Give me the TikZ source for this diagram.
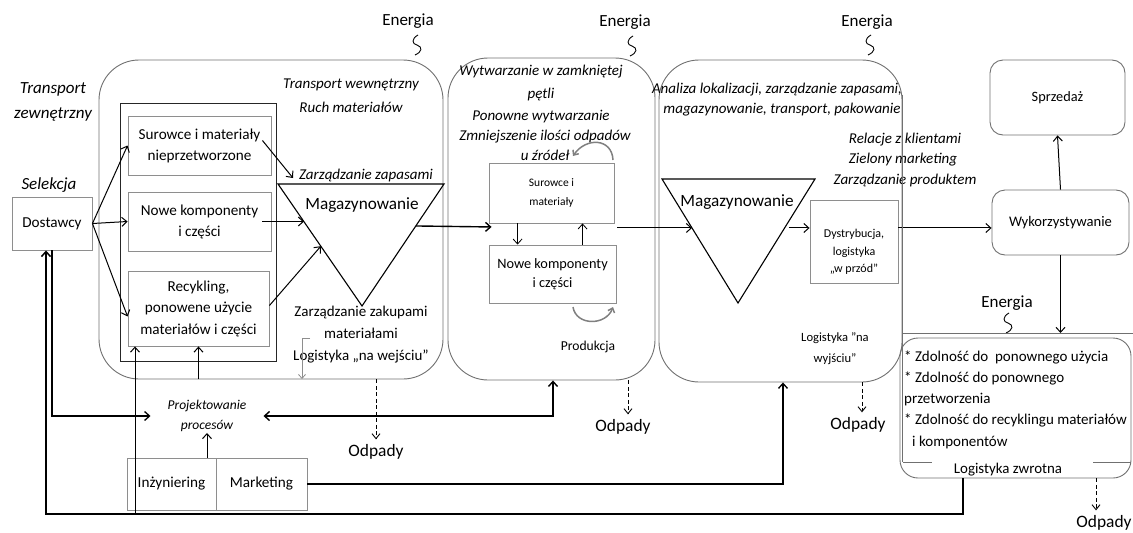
\documentclass[tikz,border=0pt]{standalone}
\usepackage{fontspec}
\setmainfont{Carlito}
\usetikzlibrary{arrows.meta,calc}
\newcommand\fsz[2]{\fontsize{#1}{#2}\selectfont}
\definecolor{boxgray}{HTML}{707070}
\definecolor{lightgray}{HTML}{8E8E8E}
\begin{document}
\begin{tikzpicture}[x=1pt,y=-1pt,
  bigbox/.style={draw=boxgray, rounded corners=40pt, line width=0.9pt, inner sep=0pt},
  gbox/.style={draw=lightgray, line width=0.9pt, inner sep=0pt, align=center, font=\fsz{15.2}{21}},
  rbox/.style={draw=boxgray, rounded corners=13pt, line width=0.9pt, inner sep=0pt, align=center},
  tri/.style={draw=black, line width=1.1pt},
  arr/.style={-{Straight Barb[length=5pt,width=9pt]}, line width=1pt},
  arrr/.style={{Straight Barb[length=5pt,width=9pt]}-{Straight Barb[length=5pt,width=9pt]}, line width=1.4pt},
  darr/.style={-{Straight Barb[length=5pt,width=8pt]}, line width=0.9pt, dash pattern=on 4pt off 2.5pt},
  garr/.style={-{Straight Barb[length=4pt,width=7pt]}, line width=0.8pt, draw=lightgray},
  garc/.style={-{Straight Barb[length=4pt,width=7pt]}, line width=1.5pt, draw=gray},
  it/.style={font=\fsz{15}{20}\itshape, inner sep=1pt},
  lbl/.style={font=\fsz{15}{22}, inner sep=1pt, align=center},
  en/.style={font=\fsz{17}{20}, inner sep=1pt},
  od/.style={font=\fsz{17.4}{20}, inner xsep=1pt, inner ysep=5pt},
  squig/.pic={\draw[line width=0.9pt] (1,0) .. controls (-6,4) and (-5,9) .. (0,10) .. controls (6,12) and (5,17) .. (-2,20);}
]
\useasboundingbox (0,0) rectangle (1133,533);

% big process boxes
\node[bigbox, minimum width=344pt, minimum height=319pt] (b1) at (271,219.5) {};
\node[bigbox, minimum width=207pt, minimum height=322pt] (b2) at (551.5,219) {};
\node[bigbox, minimum width=243pt, minimum height=322pt] (b3) at (780.5,221) {};

% energy
\node[en] (e1) at (408,21) {Energia};
\pic at (417,35) {squig};
\node[en] (e2) at (625,22) {Energia};
\pic at (632,36) {squig};
\node[en] (e3) at (867,22) {Energia};
\pic at (870,35) {squig};
\node[en] (e4) at (1007,303) {Energia};
\pic at (1008,313) {squig};

% left labels
\node[font=\fsz{17}{25}\itshape, align=center, inner sep=1pt] (tz) at (53,102) {Transport\\zewnętrzny};
\node[font=\fsz{17}{20}\itshape, inner sep=1pt] (sel) at (49,185) {Selekcja};
\node[gbox, minimum width=80pt, minimum height=53pt] (dost) at (52,223.5) {Dostawcy};

% box 1 contents
\node[draw=black!85, line width=0.9pt, minimum width=156pt, minimum height=258pt, inner sep=0pt] (cont) at (198,232) {};
\node[gbox, minimum width=143pt, minimum height=59pt] (sur) at (199.5,145.5) {Surowce i materiały\\nieprzetworzone};
\node[gbox, minimum width=143pt, minimum height=59pt] (nowe) at (199.5,221.5) {Nowe komponenty\\i części};
\node[gbox, minimum width=141pt, minimum height=75pt, font=\fsz{15.2}{21.5}] (rec) at (198.5,308.5) {Recykling,\\ponowene użycie\\materiałów i części};

\coordinate (t1a) at (278,184);
\coordinate (t1b) at (444,184);
\coordinate (t1c) at (362,306);
\draw[tri] (t1a) -- (t1b) -- (t1c) -- cycle;
\node[font=\fsz{17.2}{20}, inner sep=1pt] (mag1) at (362,205) {Magazynowanie};

\node[it] (tw) at (351,85) {Transport wewnętrzny};
\node[it] (rm) at (351,107) {Ruch materiałów};
\node[it] (zz) at (366,175) {Zarządzanie zapasami};
\node[lbl] (zak) at (361,335) {Zarządzanie zakupami\\materiałami\\Logistyka „na wejściu”};

\coordinate (g1) at (310,338);
\coordinate (g2) at (302,379);
\draw[garr] (g1) -| (g2);

\draw[arr] (dost.east) -- (sur.west);
\draw[arr] (dost.east) -- (nowe.west);
\draw[arr] (dost.east) -- ($(rec.west)+(0,8)$);
\coordinate (z1) at (293,178);
\draw[arr] ($(sur.east)+(-9,-5)$) -- (z1);
\coordinate (n1) at ($(t1a)!0.31!(t1c)$);
\draw[arr] ($(nowe.east)+(-9,0)$) -- (nowe.east -| n1);
\coordinate (n2) at ($(t1a)!0.51!(t1c)$);
\draw[arr] ($(rec.east)+(0,-3)$) -- (n2);

% box 2 contents
\node[it] (w1) at (541,72) {Wytwarzanie w zamkniętej};
\node[it] (w2) at (541,94) {pętli};
\node[it] (w3) at (541,117) {Ponowne wytwarzanie};
\node[it] (w4) at (545,137) {Zmniejszenie ilości odpadów};
\node[it] (w5) at (545,155) {u źródeł};
\node[gbox, minimum width=125pt, minimum height=60pt, font=\fsz{11.5}{19}] (sur2) at (551.5,193) {Surowce i\\materiały};
\node[gbox, minimum width=127pt, minimum height=58pt, font=\fsz{14.3}{19}] (nowe2) at (552.5,274) {Nowe komponenty\\i części};
\draw[arr, line width=0.8pt] ($(sur2.south west)+(29,0)$) -- ($(nowe2.north west)+(29,0)$);
\draw[arr, line width=0.8pt] ($(nowe2.north west)+(94,0)$) -- ($(sur2.south west)+(94,0)$);
\coordinate (ga1) at (613,160);
\coordinate (ga2) at (573,156);
\draw[garc] (ga1) .. controls (612,138) and (586,137) .. (ga2);
\coordinate (gb1) at (573,307);
\coordinate (gb2) at (613,307);
\draw[garc] (gb1) .. controls (576,326) and (606,326) .. (gb2);
\node[font=\fsz{13.6}{16}, inner sep=1pt] (prod) at (588,347) {Produkcja};

\coordinate (m1) at ($(t1b)!0.344!(t1c)$);
\draw[arr, line width=1.4pt] (m1) -- ($(m1 -| sur2.west)+(3,1)$);

% box 3 contents
\coordinate (t2a) at (662,179);
\coordinate (t2b) at (815,179);
\coordinate (t2c) at (738,303);
\draw[tri] (t2a) -- (t2b) -- (t2c) -- cycle;
\node[font=\fsz{17.2}{20}, inner sep=1pt] (mag2) at (737,202) {Magazynowanie};
\coordinate (m2) at ($(t2a)!0.395!(t2c)$);
\draw[arr] ($(sur2.east |- m2)+(3,0)$) -- (m2);
\node[it] (a1) at (777,90) {Analiza lokalizacji, zarządzanie zapasami,};
\node[it] (a2) at (782,110) {magazynowanie, transport, pakowanie};
\node[it] (r1) at (905,140) {Relacje z klientami};
\node[it] (r2) at (903,160) {Zielony marketing};
\node[it] (r3) at (905,180) {Zarządzanie produktem};
\node[draw=lightgray, line width=0.9pt, minimum width=88pt, minimum height=83pt, inner sep=0pt] (dys) at (854,241.5) {};
\node[font=\fsz{12}{17.5}, align=center, inner sep=0pt] (dyst) at (854,252) {Dystrybucja,\\logistyka\\„w przód"};
\coordinate (m3) at ($(t2b)!0.395!(t2c)$);
\draw[arr] ($(m3)+(4,0)$) -- (m3 -| dys.west);
\node[font=\fsz{12.6}{21}, align=center, inner sep=1pt] (lw) at (835,349) {Logistyka "na\\wyjściu"};

% right column
\node[rbox, minimum width=135pt, minimum height=75pt, font=\fsz{14.3}{18}] (sprz) at (1057.5,97.5) {Sprzedaż};
\node[rbox, minimum width=137pt, minimum height=65pt, font=\fsz{14.6}{18}] (wyk) at (1060.5,222.5) {Wykorzystywanie};
\draw[arr] (dys.east |- m3) -- (m3 -| wyk.west);
\draw[arr] (wyk.north) -- (sprz.south);

% box 4
\coordinate (v1) at (902,95);
\coordinate (v2) at (902,462);
\draw[draw=boxgray, line width=0.9pt] (v1) -- (v2);
\coordinate (h1) at (902,333);
\coordinate (h2) at (1133,333);
\draw[draw=boxgray, line width=0.9pt] (h1) -- (h2);
\node[draw=boxgray, rounded corners=18pt, line width=0.9pt, minimum width=231pt, minimum height=140pt, inner sep=0pt] (b4) at (1015.5,408) {};
\coordinate (s1) at (903,462);
\coordinate (s2) at (932,462);
\coordinate (s3) at (1093,462);
\coordinate (s4) at (1131,462);
\draw[draw=boxgray, line width=0.9pt] (s1) -- (s2) (s3) -- (s4);
\node[font=\fsz{15}{21.2}, align=left, inner sep=0pt, anchor=west] (zd) at (904,399.5) {* Zdolność do\ \ ponownego użycia\\* Zdolność do ponownego\\przetworzenia\\* Zdolność do recyklingu materiałów\\\hspace*{8pt}i komponentów};
\node[font=\fsz{14.9}{18}, inner sep=1pt] (lz) at (1008,470) {Logistyka zwrotna};
\draw[arr] (wyk.south) -- (wyk.south |- h1);

% bottom
\node[font=\fsz{13.5}{20}\itshape, align=center, inner xsep=17pt, inner ysep=1pt] (proj) at (207,416) {Projektowanie\\procesów};
\node[gbox, minimum width=89pt, minimum height=52pt] (inz) at (171.5,484) {Inżyniering};
\node[gbox, minimum width=91pt, minimum height=52pt] (mark) at (261.5,484) {Marketing};
\draw[arr] (inz.north -| proj.south) -- (proj.south);
\draw[arr, line width=1.3pt] (dost.south) |- (proj.west);
\coordinate (b2in) at ($(b2.south)+(1.5,0)$);
\draw[arrr] (proj.east) -| (b2in);
\draw[arr, line width=1.3pt] (mark.east) -| ($(b3.south)+(2.5,0)$);
\draw[arr] (b1.south -| rec.south) -- (rec.south);

\coordinate (lb) at ($(b4.south)+(-52.5,0)$);
\coordinate (loopL) at (46,514);
\draw[arr, line width=1.5pt] (lb) |- (loopL) -- (loopL |- dost.south);
\coordinate (br) at (135,514);
\draw[arr] (br) -- (br |- rec.south);

% waste
\node[od] (od1) at (376,452) {Odpady};
\coordinate (d1) at ($(b1.south)+(105,0)$);
\draw[darr] (d1) -- (d1 |- od1.north);
\node[od] (od2) at (623,427) {Odpady};
\coordinate (d2) at ($(b2.south)+(76.5,0)$);
\draw[darr] (d2) -- (d2 |- od2.north);
\node[od] (od3) at (858,425) {Odpady};
\coordinate (d3) at ($(b3.south)+(81.5,0)$);
\draw[darr] (d3) -- (d3 |- od3.north);
\node[od] (od4) at (1104,523) {Odpady};
\coordinate (d4) at ($(b4.south)+(80.5,0)$);
\draw[darr] (d4) -- (d4 |- od4.north);
\end{tikzpicture}
\end{document}
